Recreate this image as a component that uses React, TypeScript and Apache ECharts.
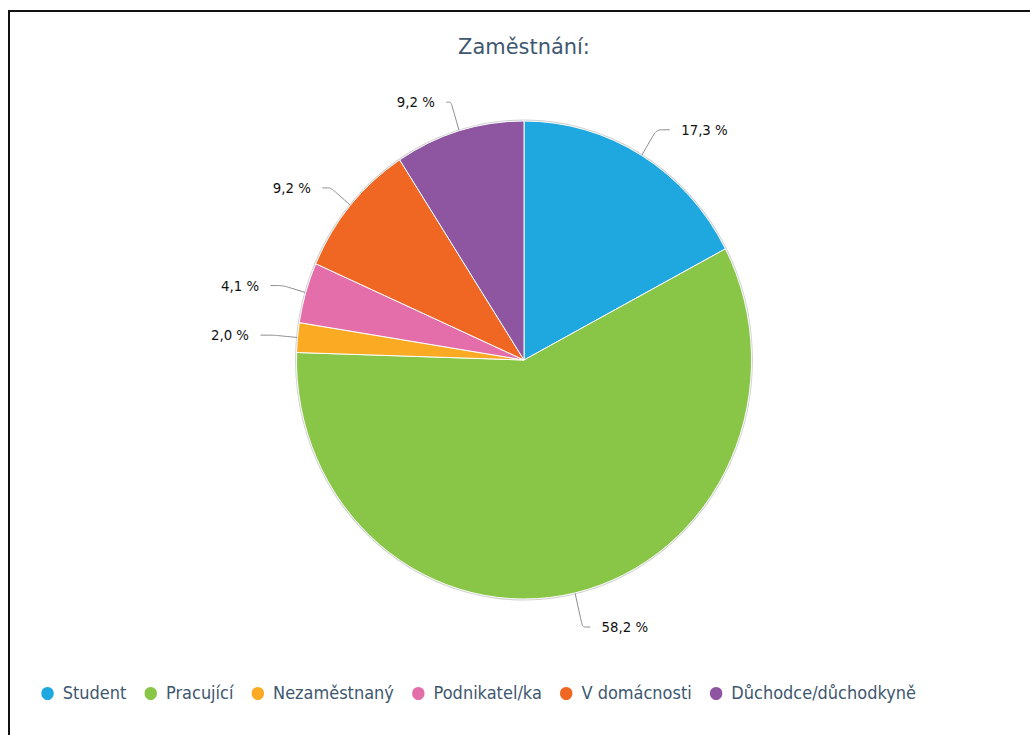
import React, { useEffect, useRef } from "react";
import * as echarts from "echarts";

const categories = ["Student", "Pracující", "Nezaměstnaný", "Podnikatel/ka", "V domácnosti", "Důchodce/důchodkyně"];
const values = [17.3, 58.2, 2.0, 4.1, 9.2, 9.2];
const colors = ["#1FA8E0", "#89C648", "#FBAA24", "#E46EAA", "#F06623", "#8E56A0"];
const titleText = "Zaměstnání:";

// connector lengths per slice (style only): [radial length, horizontal length]
const connectorLengths = [
  [30, 14],
  [35, 8],
  [25, 14],
  [25, 13],
  [27, 9],
  [30, 5],
];

const FONT = "DejaVu Sans";

export default function App() {
  const ref = useRef<HTMLDivElement>(null);
  useEffect(() => {
    if (!ref.current) return;
    const chart = echarts.init(ref.current, undefined, { renderer: "svg" });
    chart.setOption({
      animation: false,
      color: colors,
      title: {
        text: titleText,
        left: "center",
        top: 30,
        textStyle: { fontFamily: FONT, fontSize: 22, fontWeight: "normal", color: "#3E576F" },
      },
      legend: {
        data: categories,
        left: 10,
        top: 680,
        icon: "circle",
        itemWidth: 22,
        itemHeight: 15,
        itemGap: 17,
        textStyle: { fontFamily: FONT, fontSize: 17, color: "#3E576F" },
      },
      series: [
        {
          type: "pie",
          silent: true,
          center: [524, 360],
          radius: 240.5,
          label: { show: false },
          labelLine: { show: false },
          itemStyle: { color: "rgba(0,0,0,0.18)" },
          data: [{ value: 1, name: "" }],
          z: 1,
        },
        {
          type: "pie",
          center: [524, 360],
          radius: 239,
          startAngle: 90,
          clockwise: true,
          avoidLabelOverlap: false,
          z: 2,
          itemStyle: { borderColor: "#ffffff", borderWidth: 1 },
          label: {
            show: true,
            position: "outside",
            fontFamily: FONT,
            fontSize: 14,
            color: "#111",
            distanceToLabelLine: 12,
            formatter: (p: any) => `${Number(p.value).toFixed(1).replace(".", ",")} %`,
          },
          labelLine: {
            show: true,
            length: 26,
            length2: 8,
            smooth: 0.2,
            lineStyle: { color: "#888", width: 1 },
          },
          data: categories.map((name, i) => ({
            name,
            value: values[i],
            labelLine: { length: connectorLengths[i][0], length2: connectorLengths[i][1] },
          })),
        },
      ],
    });
    return () => chart.dispose();
  }, []);

  return (
    <div style={{ position: "fixed", left: 0, top: 0, width: 1030, height: 735, overflow: "hidden", background: "#fff" }}>
      <div
        style={{
          position: "absolute",
          left: 8,
          top: 10,
          width: 1100,
          height: 800,
          border: "2px solid #111",
          boxSizing: "border-box",
        }}
      />
      <div
        ref={ref}
        style={{
          position: "absolute",
          left: 0,
          top: 0,
          width: 1048,
          height: 735,
          transform: "scaleX(0.952)",
          transformOrigin: "524px 0px",
        }}
      />
    </div>
  );
}
